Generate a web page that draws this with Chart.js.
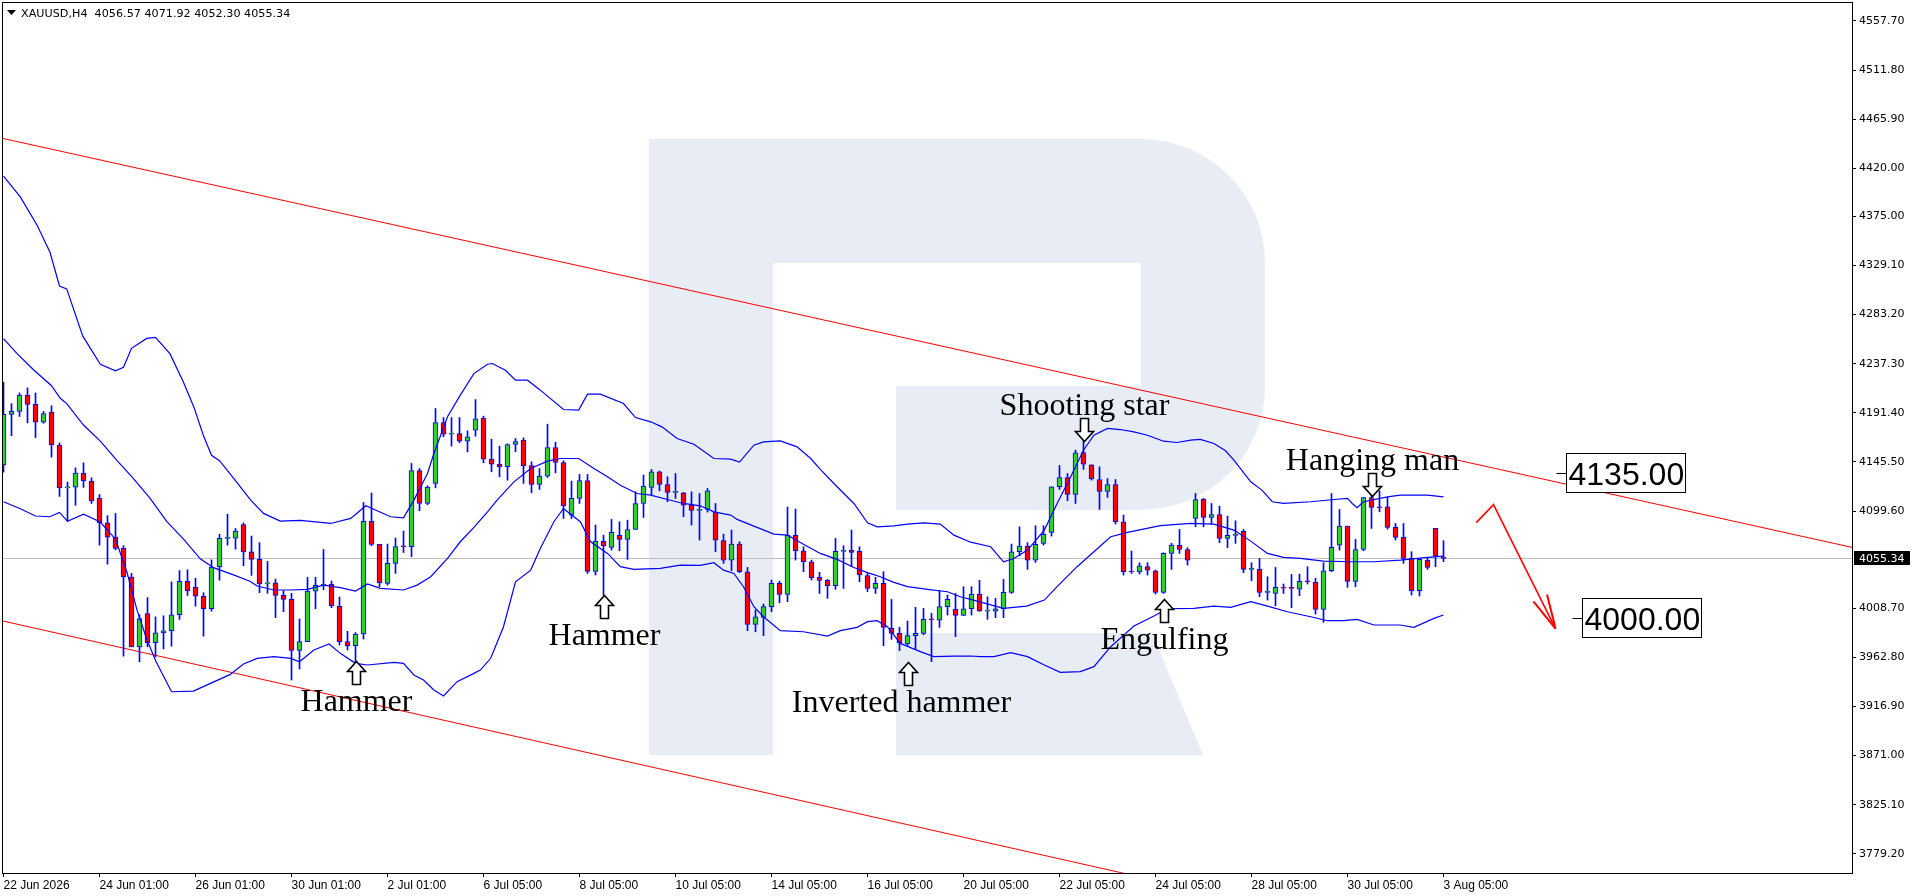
<!DOCTYPE html>
<html>
<head>
<meta charset="utf-8">
<title>XAUUSD H4</title>
<script src="https://cdn.jsdelivr.net/npm/chart.js"></script>
<style>
  html, body { margin: 0; padding: 0; background: #fff; overflow: hidden; }
  canvas { display: block; }
</style>
</head>
<body>
<canvas id="chart" width="1916" height="896"></canvas>
<script>
var opens = [4142.7,4190.0,4192.7,4208.0,4199.3,4182.7,4192.0,4161.3,4121.3,4122.0,
  4135.0,4127.7,4111.7,4088.7,4075.3,4064.7,4038.0,3972.7,4003.7,3976.7,
  3985.7,3987.7,4002.7,4034.0,4028.3,4020.0,4008.3,4047.3,4074.0,4074.3,
  4087.0,4061.5,4054.4,4031.4,4032.6,4020.8,4017.0,3969.4,3977.5,4024.8,
  4030.1,4031.0,4010.5,3977.5,3973.8,3984.7,4089.9,4068.4,4032.0,4050.7,
  4066.5,4066.2,4137.5,4106.7,4125.4,4182.4,4171.5,4172.0,4164.9,4175.2,
  4186.5,4148.1,4143.4,4141.0,4161.8,4165.9,4142.2,4124.4,4132.2,4159.0,
  4145.0,4095.8,4111.4,4128.2,4043.2,4071.2,4065.6,4076.8,4073.1,4082.4,
  4106.7,4121.6,4136.3,4124.4,4117.0,4116.7,4105.5,4100.2,4101.1,4098.6,
  4072.0,4053.8,4068.7,4042.9,3993.7,4000.2,4010.2,4032.0,4021.7,4076.8,
  4062.5,4052.2,4037.6,4034.8,4029.8,4061.9,4062.8,4061.9,4039.2,4027.3,
  4032.0,3990.0,3985.3,3975.3,3983.1,3985.3,3998.4,3997.7,4010.2,4007.7,
  4002.1,4008.3,4021.7,4006.1,4006.1,4008.3,4023.6,4061.6,4066.9,4053.8,
  4069.4,4079.6,4122.3,4131.0,4115.1,4154.3,4142.8,4129.1,4117.9,4124.4,
  4089.6,4042.9,4042.6,4047.6,4043.8,4023.6,4060.0,4067.5,4063.7,4092.7,
  4110.8,4093.6,4096.4,4074.0,4076.8,4080.6,4045.1,4045.1,4023.6,4022.6,
  4028.3,4027.6,4026.7,4033.8,4032.9,4007.7,4043.8,4067.8,4085.5,4033.8,
  4063.7,4112.3,4103.0,4103.6,4084.3,4075.0,4055.3,4025.1,4053.8,4083.4,
  4056.57];
var highs = [4220.0,4200.0,4210.0,4214.7,4210.0,4192.7,4198.0,4163.3,4126.7,4140.0,
  4144.7,4130.7,4115.0,4095.3,4097.3,4067.3,4041.3,4002.7,4018.7,4000.7,
  4001.7,4033.3,4044.0,4044.7,4036.7,4023.3,4054.0,4078.0,4096.7,4083.3,
  4088.5,4076.2,4070.0,4052.5,4036.0,4025.1,4022.7,3998.7,4037.6,4037.6,
  4063.7,4034.2,4019.2,3987.2,3986.0,4107.6,4116.4,4068.4,4068.7,4074.3,
  4080.9,4144.1,4139.4,4123.2,4195.4,4187.0,4187.0,4187.0,4174.6,4203.8,
  4188.3,4166.8,4160.3,4162.5,4167.4,4168.0,4145.6,4139.4,4180.8,4164.0,
  4146.6,4127.6,4133.8,4133.8,4086.5,4077.1,4091.8,4089.6,4091.1,4117.6,
  4133.2,4138.5,4137.0,4131.6,4134.7,4117.0,4117.6,4116.0,4120.7,4106.7,
  4078.0,4081.8,4070.9,4046.9,4007.1,4012.7,4035.1,4034.2,4103.3,4101.4,
  4066.2,4053.8,4042.3,4035.7,4074.0,4067.2,4081.8,4066.2,4041.3,4037.6,
  4042.9,4017.0,3990.9,3996.8,4009.6,4008.6,4004.0,4025.1,4021.1,4022.6,
  4028.9,4028.9,4034.8,4019.5,4018.0,4035.7,4068.7,4084.9,4070.0,4085.9,
  4085.9,4122.3,4142.2,4134.7,4156.5,4164.9,4142.8,4140.9,4130.0,4129.1,
  4095.8,4062.2,4051.3,4051.3,4044.4,4060.6,4069.4,4082.4,4065.3,4116.0,
  4111.4,4106.7,4104.2,4094.9,4090.5,4082.4,4051.3,4055.3,4038.2,4046.9,
  4031.4,4040.4,4040.7,4047.6,4036.7,4051.3,4116.0,4101.1,4085.5,4073.1,
  4112.3,4114.5,4118.5,4112.3,4088.0,4088.0,4061.6,4055.3,4055.3,4083.4,
  4071.92];
var lows = [4136.0,4170.0,4188.0,4182.0,4168.3,4181.7,4150.0,4113.3,4090.0,4105.0,
  4121.7,4106.7,4067.7,4050.0,4063.3,3964.0,3972.7,3958.7,3972.7,3963.3,
  3970.7,3973.3,3998.3,4020.7,4010.7,3982.7,4006.0,4035.0,4067.7,4064.0,
  4048.5,4039.5,4023.3,4022.7,3999.9,4005.5,3941.7,3952.0,3977.5,4008.3,
  4026.0,4009.3,3974.4,3969.7,3958.8,3980.0,4067.2,4028.9,4030.4,4041.3,
  4060.9,4056.9,4099.9,4105.5,4121.3,4169.0,4160.3,4163.4,4154.9,4169.6,
  4144.7,4136.3,4131.6,4128.5,4155.0,4125.4,4116.7,4119.8,4131.0,4135.3,
  4092.7,4092.7,4106.7,4041.3,4039.8,4021.1,4063.1,4062.5,4054.4,4082.4,
  4093.6,4114.5,4118.5,4108.3,4111.4,4094.3,4086.5,4072.5,4098.6,4061.6,
  4050.7,4043.8,4042.0,3987.8,3986.8,3983.1,4005.5,4013.9,4014.9,4053.8,
  4042.9,4035.1,4022.6,4018.0,4026.4,4027.3,4047.6,4033.5,4024.2,4022.6,
  3973.8,3979.7,3969.1,3973.5,3970.9,3984.0,3958.8,3990.9,4002.4,3982.2,
  4002.0,4002.4,4006.0,3998.4,3999.9,3999.9,4022.6,4057.8,4045.1,4051.6,
  4067.8,4076.2,4119.8,4109.2,4106.7,4138.5,4128.5,4101.1,4112.3,4087.4,
  4039.8,4041.3,4040.7,4039.8,4022.0,4022.6,4045.1,4060.0,4049.1,4084.9,
  4084.9,4087.4,4070.0,4065.3,4069.4,4042.0,4034.5,4019.5,4016.4,4011.1,
  4022.6,4009.2,4020.5,4031.4,4003.3,3995.6,4042.9,4063.1,4028.3,4028.9,
  4062.5,4083.4,4098.9,4082.7,4072.5,4050.7,4021.1,4020.2,4045.1,4047.6,
  4052.30];
var closes = [4190.0,4192.7,4208.0,4199.3,4182.7,4190.7,4161.3,4121.3,4122.0,4135.0,
  4127.7,4109.0,4088.7,4075.3,4064.7,4038.0,3972.7,3999.0,3976.7,3985.7,
  3987.7,4002.7,4034.0,4025.0,4020.0,4008.3,4047.3,4074.0,4074.3,4081.0,
  4061.5,4054.4,4031.4,4032.6,4020.8,4017.0,3969.4,3977.5,4024.8,4030.1,
  4030.7,4011.1,3977.5,3973.8,3984.7,4089.9,4068.4,4032.6,4050.7,4066.5,
  4066.2,4137.5,4106.7,4122.0,4182.4,4171.5,4171.8,4164.9,4169.0,4185.8,
  4148.1,4143.4,4141.0,4161.8,4164.6,4141.9,4124.4,4132.2,4159.0,4145.0,
  4104.5,4111.4,4128.2,4043.2,4071.5,4066.9,4079.6,4073.1,4082.4,4106.7,
  4122.9,4136.3,4124.4,4117.0,4117.3,4105.1,4100.2,4100.5,4118.5,4072.5,
  4053.8,4068.7,4042.9,3993.7,4000.8,4010.2,4032.0,4021.7,4076.8,4062.5,
  4052.2,4037.3,4034.8,4029.8,4061.9,4062.5,4060.9,4039.8,4027.3,4032.0,
  3990.9,3985.3,3976.6,3983.1,3985.3,3998.4,3998.0,4010.2,4017.0,4002.1,
  4008.3,4021.7,4006.1,4007.0,4008.3,4023.6,4061.6,4066.9,4053.8,4068.4,
  4077.8,4122.3,4131.0,4115.1,4154.0,4143.4,4129.7,4117.9,4124.4,4089.6,
  4042.9,4042.6,4048.5,4044.4,4023.6,4060.0,4067.8,4063.7,4053.8,4110.4,
  4093.6,4096.4,4074.0,4076.8,4077.4,4045.1,4045.4,4023.6,4023.6,4028.3,
  4027.6,4027.3,4033.8,4033.5,4007.7,4043.8,4065.6,4085.5,4033.8,4063.7,
  4112.3,4103.0,4102.7,4084.3,4075.0,4055.3,4025.1,4054.4,4046.9,4057.5,
  4055.34];

// time labels, one every 12 bars
var xLabels = ["22 Jun 2026","24 Jun 01:00","26 Jun 01:00","30 Jun 01:00","2 Jul 01:00",
  "6 Jul 05:00","8 Jul 05:00","10 Jul 05:00","14 Jul 05:00","16 Jul 05:00",
  "20 Jul 05:00","22 Jul 05:00","24 Jul 05:00","28 Jul 05:00","30 Jul 05:00","3 Aug 05:00"];
var yTicks = [4557.70,4511.80,4465.90,4420.00,4375.00,4329.10,4283.20,4237.30,4191.40,
  4145.50,4099.60,4008.70,3962.80,3916.90,3871.00,3825.10,3779.20];

// Bollinger bands, sampled as [bar, price]
var bandUpper = [[0,4412.7],[2.1,4393.3],[4.2,4366.7],[5.8,4341.7],[7,4310],[7.9,4307.3],[9.9,4263.3],
  [12.1,4236.7],[14,4230.7],[15,4234],[16,4251.7],[17.9,4261],[19,4262],[20.8,4246.7],[22.5,4220],
  [23.8,4196.7],[25,4170],[26,4151.7],[27,4146.7],[28.8,4130],[30.9,4109.8],[32.5,4097.4],[34.6,4090.2],
  [37.1,4090.8],[40.9,4088],[43.4,4092.7],[44.4,4098.9],[45.3,4104.5],[46.7,4099.9],[48.4,4094.3],
  [50,4093.3],[51.3,4109.8],[53,4134.7],[53.8,4153.4],[55.5,4187.7],[57.1,4207.9],[58.8,4228.1],
  [60.5,4236.8],[61.1,4237.5],[62.75,4231.2],[64,4221.9],[65.5,4221.9],[67.1,4212.6],[70,4194.5],
  [71.9,4193.9],[73,4208.8],[74.6,4208.8],[77.5,4200.1],[79,4187],[80.9,4183],[82.3,4178.3],
  [84.2,4167.4],[86.3,4162.1],[88.8,4148.7],[90.9,4148.1],[92,4145.3],[93.8,4161.2],[95,4164.3],
  [97.1,4165.2],[99.2,4159.6],[100.9,4148.7],[102.1,4138.5],[104.2,4122.3],[106.3,4106.7],[108,4088.6],
  [109.2,4084.9],[111.3,4085.8],[113,4087.4],[115,4088.6],[117.1,4087.4],[118.8,4077.1],[120.9,4070.5],
  [123.4,4066.2],[125,4052.2],[126.3,4055.3],[128,4063.1],[130.1,4081.8],[131.7,4106.7],[133.4,4131.6],
  [135,4156.5],[136.3,4170.5],[138,4176.8],[139.6,4175.8],[141.3,4173.6],[143,4170.5],[145,4164.9],
  [146.7,4163.7],[148.4,4165.9],[149.6,4166.5],[151.3,4162.7],[152.75,4155.9],[153.8,4147.2],
  [155.9,4126.9],[157.3,4119.2],[158.6,4108.3],[160,4106.7],[163.4,4108.3],[166.3,4110.4],[168,4111.4],
  [168.6,4106.7],[169.2,4102.7],[170,4108.3],[173,4112.9],[174.6,4114.5],[178,4114.5],[180,4112.9]];
var bandMiddle = [[0,4260.7],[1.7,4246.7],[3.75,4231.7],[6,4216.7],[7.1,4205],[7.9,4200],[10,4180],
  [12.1,4165],[14.2,4146.7],[16.25,4130],[18.3,4111.7],[20.4,4090],[22.5,4073.3],[24.6,4055],
  [26.25,4046.7],[28.75,4040],[30.8,4034],[31.7,4029.5],[33.8,4025.8],[35.9,4025.8],[38,4026.4],
  [40,4030.4],[42.1,4028],[44,4024.8],[45.5,4031.4],[47.1,4027.3],[50,4025.8],[51.7,4030.4],
  [53.4,4038.2],[55.5,4055.3],[57.1,4070.9],[58.8,4084.3],[60.5,4098.9],[61.7,4109.8],[63.8,4126.9],
  [65.9,4139.4],[68,4146.3],[69.6,4148.7],[71.9,4148.7],[73.8,4139.4],[75.5,4131.6],[77.1,4123.8],
  [79.2,4116],[80.9,4114.5],[83,4110.4],[85,4106.7],[87.1,4104.5],[88.8,4098.9],[90.9,4095.8],
  [91.7,4091.8],[93.8,4085.5],[96.3,4078.1],[98,4077.1],[99.6,4070.3],[102.1,4060],[104.2,4054.4],
  [106.3,4046.9],[108,4042],[109.6,4038.2],[111.3,4032.9],[113,4028.9],[115.5,4026.4],[118,4024.2],
  [119.6,4019.5],[120.9,4017],[125,4008.6],[127.9,4010.8],[130.1,4016.4],[131.7,4028.9],[134.2,4047.6],
  [136.3,4061.6],[138.4,4075.6],[140.5,4079.6],[144.6,4085.9],[148.4,4088],[151.3,4087.4],
  [153.8,4081.8],[155.9,4071.5],[158,4060],[160,4056.3],[162.1,4055.3],[165,4052.8],[168.4,4052.2],
  [171.3,4052.2],[174.6,4053.8],[178,4056.3],[180,4057.5]];
var bandLower = [[0,4108.3],[2.1,4101.7],[4,4095],[5.8,4094.3],[7,4098.3],[8,4090],[10,4096.7],
  [12.1,4089.3],[14,4073.3],[15.4,4043.3],[16.7,4006.7],[17.9,3980],[19,3960],[21,3930.7],
  [23.75,3931.3],[25.8,3938.3],[28.3,3946.7],[30,3956.7],[31.7,3961.9],[33.8,3963.5],[35.9,3961.9],
  [37,3958.8],[38.8,3969.7],[40.7,3975.3],[42.1,3966.6],[44,3957.3],[45.5,3955.7],[48.8,3958.2],
  [50,3957.3],[51.3,3946.4],[52.5,3941.7],[53.8,3932.4],[55,3926.8],[56.7,3940.1],[58.8,3947.9],
  [59.6,3951],[60.9,3962],[62.5,3991.5],[64,4033.5],[65.9,4044.4],[67.1,4064.7],[68.8,4089.6],
  [70,4102],[72.1,4089.6],[73.4,4070.9],[75.5,4060],[77.1,4047.6],[78.8,4045.1],[82.1,4046],
  [84.6,4049.1],[87.1,4048.8],[88.8,4051.3],[90,4044.4],[91.3,4041.3],[92.5,4028.9],[93.8,4010.2],
  [95,4000.8],[97.1,3987.8],[100,3986.8],[103,3982.8],[104.6,3987.8],[106.7,3990.9],[108,3996.2],
  [109.2,3997.1],[110.5,3991.5],[112.1,3975.9],[114.6,3968.2],[116.3,3963.5],[118.8,3964.1],
  [120.9,3964.1],[122.1,3963.5],[123.8,3963.5],[125.9,3967.2],[128,3963.5],[130.1,3955.7],
  [132.1,3948.9],[134.6,3949.5],[136.3,3954.2],[138.4,3972.8],[141.3,3992.1],[143.8,4001.5],
  [145.5,4008.3],[148.8,4008.6],[151.3,4010.8],[153.4,4009.6],[155.9,4014.9],[158,4010.8],
  [160.5,4005.5],[163.4,4000.8],[165.5,3997.1],[167.5,3997.1],[169.2,3998.4],[171.3,3993.1],
  [174.6,3993.1],[176.3,3990.9],[178.8,3999.3],[180,4002.4]];

// drawn objects: channel lines, forecast arrow, target levels, candle patterns
var channelTop = [[-1, 4449.4], [232, 4064.1]];
var channelBottom = [[-1, 3998.4], [232, 3606.2]];
var forecast = [[184.1, 4088.8], [186.25, 4105.6], [194, 3989.8]];
var levels = [4135.00, 4000.00];
var levelBars = [194.1, 196.1];
var patterns = [
  ["Hammer", 44, 3959.2, "up", 0],
  ["Hammer", 75, 4021.6, "up", 0],
  ["Inverted hammer", 113, 3958.9, "up", -7],
  ["Shooting star", 135, 4164.8, "down", 0],
  ["Engulfing", 145, 4017.4, "up", 0],
  ["Hanging man", 171, 4113.4, "down", 0]
];

var last = opens.length - 1;
var lastClose = closes[last];
var xMin = -0.1875, xMax = 231.0625;

var bars = opens.map(function (o, i) { return i; });
var bodyData = bars.map(function (i) { return { x: i, y: [opens[i], closes[i]] }; });
var wickData = bars.map(function (i) { return { x: i, y: [lows[i], highs[i]] }; });
var bodyColors = bars.map(function (i) { return closes[i] >= opens[i] ? '#32cd32' : '#ff0000'; });
function pts(arr) { return arr.map(function (p) { return { x: p[0], y: p[1] }; }); }

function lineSet(arr, color, width, order) {
  return { type: 'line', data: pts(arr), borderColor: color, borderWidth: width,
    pointRadius: 0, tension: 0, fill: false, order: order };
}

function blockArrow(ctx, x, tip, s) {
  var h = 23, hh = 10, hw = 9, sw = 4;
  ctx.beginPath();
  ctx.moveTo(x, tip);
  ctx.lineTo(x + hw, tip + s * hh);
  ctx.lineTo(x + sw, tip + s * hh);
  ctx.lineTo(x + sw, tip + s * h);
  ctx.lineTo(x - sw, tip + s * h);
  ctx.lineTo(x - sw, tip + s * hh);
  ctx.lineTo(x - hw, tip + s * hh);
  ctx.closePath();
  ctx.fillStyle = '#fff';
  ctx.fill();
  ctx.lineWidth = 1.6;
  ctx.strokeStyle = '#000';
  ctx.stroke();
}

var extras = {
  id: 'extras',
  beforeDraw: function (chart) {
    var ctx = chart.ctx;
    ctx.save();
    ctx.fillStyle = '#ffffff';
    ctx.fillRect(0, 0, chart.width, chart.height);
    // faint "R" watermark
    ctx.fillStyle = '#e8ecf4';
    ctx.beginPath();
    ctx.rect(649, 139, 124, 616);
    ctx.rect(773, 139, 368, 124);
    ctx.moveTo(1141, 139);
    ctx.arc(1141, 263, 124, -Math.PI / 2, 0);
    ctx.lineTo(1265, 386);
    ctx.arc(1141, 386, 124, 0, Math.PI / 2);
    ctx.lineTo(1141, 139);
    ctx.closePath();
    ctx.rect(896, 386, 245, 124);
    ctx.moveTo(896, 633);
    ctx.lineTo(1152, 633);
    ctx.lineTo(1203, 755);
    ctx.lineTo(896, 755);
    ctx.closePath();
    ctx.fill();
    ctx.restore();
  },
  beforeDatasetsDraw: function (chart) {
    var ctx = chart.ctx, a = chart.chartArea;
    var y = Math.round(chart.scales.y.getPixelForValue(lastClose)) + 0.5;
    ctx.save();
    ctx.strokeStyle = '#c0c0c0';
    ctx.lineWidth = 1;
    ctx.beginPath();
    ctx.moveTo(a.left, y);
    ctx.lineTo(a.right, y);
    ctx.stroke();
    ctx.restore();
  },
  afterDraw: function (chart) {
    var ctx = chart.ctx, a = chart.chartArea, xs = chart.scales.x, ys = chart.scales.y;
    ctx.save();
    ctx.strokeStyle = '#000';
    ctx.lineWidth = 1;
    ctx.strokeRect(a.left + 0.5, a.top + 0.5, a.right - a.left, a.bottom - a.top);

    // arrow head of the forecast line
    var p1 = forecast[forecast.length - 2], p2 = forecast[forecast.length - 1];
    var x1 = xs.getPixelForValue(p1[0]), y1 = ys.getPixelForValue(p1[1]);
    var x2 = xs.getPixelForValue(p2[0]), y2 = ys.getPixelForValue(p2[1]);
    var ang = Math.atan2(y2 - y1, x2 - x1) + Math.PI;
    ctx.strokeStyle = '#ff0000';
    ctx.lineWidth = 2;
    [-0.22, 0.22].forEach(function (d) {
      ctx.beginPath();
      ctx.moveTo(x2, y2);
      ctx.lineTo(x2 + 35 * Math.cos(ang + d), y2 + 35 * Math.sin(ang + d));
      ctx.stroke();
    });

    // candle pattern marks
    patterns.forEach(function (p) {
      var x = Math.round(xs.getPixelForValue(p[1])) + 0.5;
      var tip = Math.round(ys.getPixelForValue(p[2])) + 0.5;
      var up = p[3] === 'up';
      blockArrow(ctx, x, tip, up ? 1 : -1);
      ctx.font = '32px "Liberation Serif", "Times New Roman", serif';
      ctx.fillStyle = '#000';
      ctx.textAlign = 'center';
      ctx.textBaseline = 'alphabetic';
      ctx.fillText(p[0], x + p[4], up ? tip + 49 : tip - 27);
    });

    // target price boxes
    levels.forEach(function (v, k) {
      var x0 = Math.round(xs.getPixelForValue(levelBars[k])) + 0.5;
      var y0 = Math.round(ys.getPixelForValue(v)) + 0.5;
      ctx.strokeStyle = '#000';
      ctx.lineWidth = 1;
      ctx.beginPath();
      ctx.moveTo(x0, y0);
      ctx.lineTo(x0 + 10, y0);
      ctx.stroke();
      ctx.fillStyle = '#fff';
      ctx.fillRect(x0 + 10, y0 - 20, 119, 39);
      ctx.strokeRect(x0 + 10, y0 - 20, 119, 39);
      ctx.fillStyle = '#000';
      ctx.font = '32px "Liberation Sans", Arial, sans-serif';
      ctx.textAlign = 'left';
      ctx.textBaseline = 'alphabetic';
      ctx.fillText(v.toFixed(2), x0 + 12, y0 + 11.5);
    });

    // header line
    ctx.fillStyle = '#000';
    ctx.beginPath();
    ctx.moveTo(7, 10);
    ctx.lineTo(16, 10);
    ctx.lineTo(11.5, 15);
    ctx.closePath();
    ctx.fill();
    ctx.font = '11.2px "DejaVu Sans", sans-serif';
    ctx.textAlign = 'left';
    ctx.textBaseline = 'alphabetic';
    ctx.fillText('XAUUSD,H4  ' + opens[last].toFixed(2) + ' ' + highs[last].toFixed(2) + ' ' +
      lows[last].toFixed(2) + ' ' + closes[last].toFixed(2), 21, 17);

    // last price tag on the price axis
    var yl = Math.round(ys.getPixelForValue(lastClose));
    ctx.fillStyle = '#000';
    ctx.fillRect(a.right + 2, yl - 7, 56, 14);
    ctx.fillStyle = '#fff';
    ctx.font = '11px "DejaVu Sans", sans-serif';
    ctx.textBaseline = 'middle';
    ctx.fillText(lastClose.toFixed(2), a.right + 7, yl + 1);
    ctx.restore();
  }
};

var config = {
  type: 'bar',
  data: {
    datasets: [
      lineSet(bandUpper, '#0000ff', 1.2, 0),
      lineSet(bandMiddle, '#0000ff', 1.2, 0),
      lineSet(bandLower, '#0000ff', 1.2, 0),
      {
        type: 'bar', data: bodyData, backgroundColor: bodyColors, borderColor: '#0000ff',
        borderWidth: 1, borderSkipped: false, barThickness: 5, grouped: false,
        minBarLength: 1, order: 1
      },
      {
        type: 'bar', data: wickData, backgroundColor: '#0000ff', borderWidth: 0,
        barThickness: 1, grouped: false, order: 2
      },
      lineSet(channelTop, '#ff0000', 1, 3),
      lineSet(channelBottom, '#ff0000', 1, 3),
      lineSet(forecast, '#ff0000', 1.6, 3)
    ]
  },
  options: {
    responsive: false,
    devicePixelRatio: 1,
    animation: false,
    events: [],
    layout: { padding: { left: 2, top: 2, right: 0, bottom: 0 } },
    plugins: { legend: { display: false }, tooltip: { enabled: false } },
    scales: {
      x: {
        type: 'linear', min: xMin, max: xMax, offset: false,
        grid: { display: true, drawOnChartArea: false, drawTicks: true, tickLength: 4, color: '#000', offset: false },
        border: { display: false },
        ticks: {
          autoSkip: false, maxRotation: 0, align: 'start', padding: 1, color: '#000',
          font: { family: 'Liberation Sans', size: 12 },
          callback: function (v) { return xLabels[Math.round(v / 12)] || ''; }
        },
        afterBuildTicks: function (s) { s.ticks = xLabels.map(function (t, k) { return { value: k * 12 }; }); },
        afterFit: function (s) { s.height = 23; s.paddingLeft = 0; s.paddingRight = 0; }
      },
      y: {
        type: 'linear', position: 'right', min: 3761.3, max: 4575.4,
        grid: { display: true, drawOnChartArea: false, drawTicks: true, tickLength: 4, color: '#000' },
        border: { display: false },
        ticks: {
          autoSkip: false, padding: 3, color: '#000',
          font: { family: 'DejaVu Sans', size: 11 },
          callback: function (v) { return Number(v).toFixed(2); }
        },
        afterBuildTicks: function (s) { s.ticks = yTicks.map(function (v) { return { value: v }; }); },
        afterFit: function (s) { s.width = 64; s.paddingTop = 0; s.paddingBottom = 0; }
      }
    }
  },
  plugins: [extras]
};

window.goldChart = new Chart(document.getElementById('chart'), config);
</script>
</body>
</html>
